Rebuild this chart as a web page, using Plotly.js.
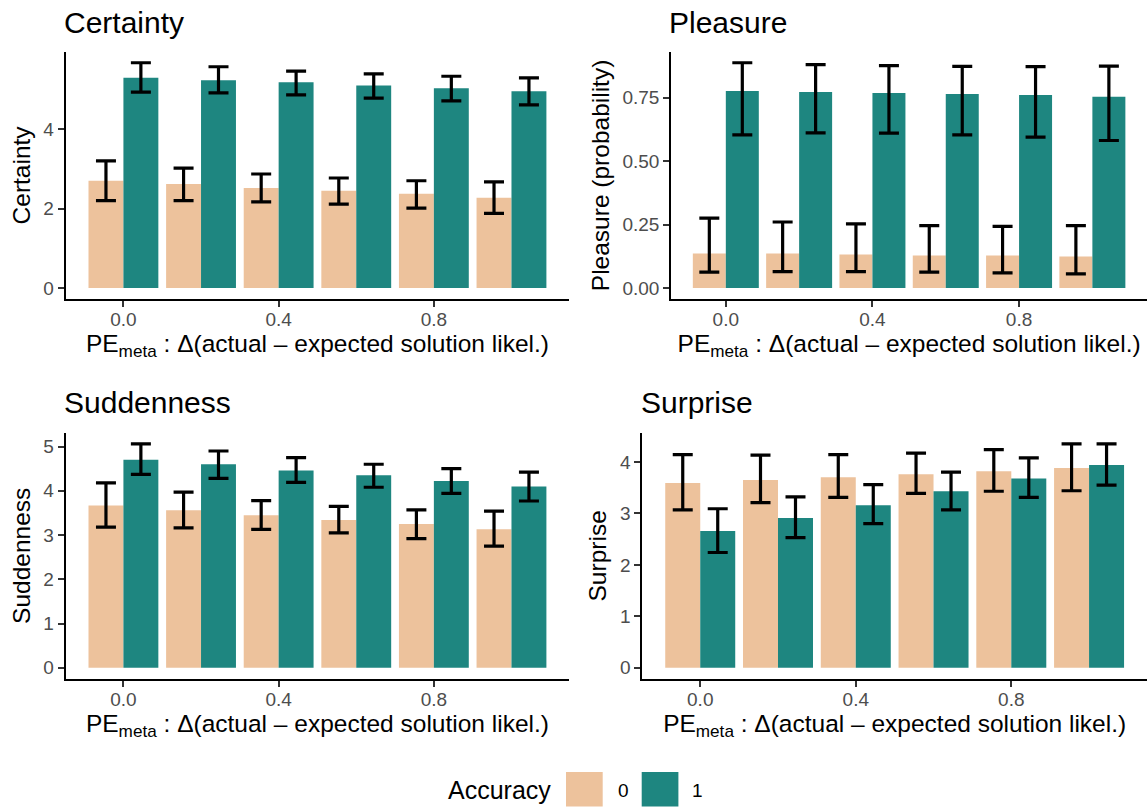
<!DOCTYPE html>
<html>
<head>
<meta charset="utf-8">
<script src="https://cdn.plot.ly/plotly-3.0.1.min.js"></script>
<style>html,body{margin:0;padding:0;background:#fff;}#chart{width:1148px;height:807px;}</style>
</head>
<body>
<div id="chart"></div>
<script>
// ---- data ----
const pe = [0, 0.2, 0.4, 0.6, 0.8, 1.0];
const accuracyLevels = ["0", "1"];
const xTickVals = [0, 0.4, 0.8];
const xTickText = ["0.0", "0.4", "0.8"];

const certainty0   = [2.70, 2.62, 2.52, 2.45, 2.37, 2.27];
const certainty0Hi = [3.20, 3.02, 2.87, 2.77, 2.70, 2.67];
const certainty0Lo = [2.20, 2.20, 2.17, 2.11, 2.01, 1.88];
const certainty1   = [5.29, 5.23, 5.18, 5.10, 5.03, 4.95];
const certainty1Hi = [5.67, 5.57, 5.46, 5.39, 5.33, 5.29];
const certainty1Lo = [4.93, 4.91, 4.86, 4.78, 4.71, 4.61];

const pleasure0   = [0.136, 0.136, 0.132, 0.128, 0.128, 0.124];
const pleasure0Hi = [0.275, 0.260, 0.253, 0.246, 0.243, 0.246];
const pleasure0Lo = [0.063, 0.065, 0.065, 0.063, 0.060, 0.056];
const pleasure1   = [0.776, 0.772, 0.768, 0.764, 0.760, 0.753];
const pleasure1Hi = [0.887, 0.880, 0.876, 0.873, 0.872, 0.874];
const pleasure1Lo = [0.603, 0.611, 0.610, 0.603, 0.594, 0.581];

const sudden0   = [3.67, 3.56, 3.45, 3.34, 3.25, 3.13];
const sudden0Hi = [4.18, 3.97, 3.78, 3.65, 3.57, 3.54];
const sudden0Lo = [3.18, 3.16, 3.13, 3.05, 2.92, 2.75];
const sudden1   = [4.70, 4.60, 4.46, 4.35, 4.22, 4.10];
const sudden1Hi = [5.06, 4.90, 4.75, 4.60, 4.50, 4.42];
const sudden1Lo = [4.37, 4.28, 4.19, 4.08, 3.94, 3.77];

const surprise0   = [3.59, 3.65, 3.70, 3.76, 3.82, 3.88];
const surprise0Hi = [4.14, 4.13, 4.14, 4.17, 4.24, 4.35];
const surprise0Lo = [3.07, 3.21, 3.31, 3.39, 3.43, 3.44];
const surprise1   = [2.66, 2.91, 3.16, 3.43, 3.68, 3.94];
const surprise1Hi = [3.09, 3.32, 3.56, 3.80, 4.08, 4.35];
const surprise1Lo = [2.24, 2.53, 2.80, 3.07, 3.31, 3.55];

const panelTitles = ["Certainty", "Pleasure", "Suddenness", "Surprise"];
const yTitles = ["Certainty", "Pleasure (probability)", "Suddenness", "Surprise"];
const yTickVals = [[0, 2, 4], [0, 0.25, 0.5, 0.75], [0, 1, 2, 3, 4, 5], [0, 1, 2, 3, 4]];
const yTickText = [["0", "2", "4"], ["0.00", "0.25", "0.50", "0.75"], ["0","1","2","3","4","5"], ["0","1","2","3","4"]];

// ---- styling ----
const W = 1148, H = 807;
const colors = ["#EDC29C", "#1E8680"];
const FONT = "Liberation Sans, Arial, Helvetica, sans-serif";
const px = v => v / W;
const py = v => 1 - v / H;

const panels = [
  {mean: [certainty0, certainty1], hi: [certainty0Hi, certainty1Hi], lo: [certainty0Lo, certainty1Lo],
   xd: [px(65.6), px(569.3)], yd: [py(299.3), py(51.5)], yr: [-0.2835, 5.9535], tx: 62, ty: 22},
  {mean: [pleasure0, pleasure1], hi: [pleasure0Hi, pleasure1Hi], lo: [pleasure0Lo, pleasure1Lo],
   xd: [px(671.2), px(1147)], yd: [py(299.3), py(51.5)], yr: [-0.04435, 0.93135], tx: 667, ty: 22},
  {mean: [sudden0, sudden1], hi: [sudden0Hi, sudden1Hi], lo: [sudden0Lo, sudden1Lo],
   xd: [px(65.6), px(569.3)], yd: [py(679), py(432.7)], yr: [-0.253, 5.313], tx: 62, ty: 402},
  {mean: [surprise0, surprise1], hi: [surprise0Hi, surprise1Hi], lo: [surprise0Lo, surprise1Lo],
   xd: [px(642.3), px(1147)], yd: [py(679), py(432.7)], yr: [-0.2175, 4.5675], tx: 639, ty: 402}
];

const traces = [];
const layout = {
  width: W, height: H,
  margin: {l: 0, r: 0, t: 0, b: 0},
  paper_bgcolor: "#fff", plot_bgcolor: "#fff",
  font: {family: FONT, color: "#000"},
  barmode: "group", bargap: 0.1, bargroupgap: 0,
  showlegend: false,
  annotations: [], shapes: []
};

panels.forEach((p, i) => {
  const n = i + 1;
  const xa = n === 1 ? "x" : "x" + n;
  const ya = n === 1 ? "y" : "y" + n;
  accuracyLevels.forEach((lvl, k) => {
    traces.push({
      type: "bar", x: pe, y: p.mean[k], name: lvl,
      xaxis: xa, yaxis: ya,
      marker: {color: colors[k], line: {width: 0}},
      error_y: {
        type: "data", symmetric: false,
        array: p.hi[k].map((h, j) => h - p.mean[k][j]),
        arrayminus: p.mean[k].map((m, j) => m - p.lo[k][j]),
        color: "#000", thickness: 3.2, width: 10
      },
      hoverinfo: "x+y"
    });
  });
  layout["xaxis" + (n === 1 ? "" : n)] = {
    domain: p.xd, anchor: ya, range: [-0.149, 1.149],
    tickvals: xTickVals, ticktext: xTickText,
    showline: true, linecolor: "#000", linewidth: 2,
    ticks: "outside", ticklen: 6, tickwidth: 2, tickcolor: "#333",
    ticklabelstandoff: -4,
    showgrid: false, zeroline: false,
    tickfont: {size: 19, color: "#4D4D4D", family: FONT},
    title: {text: "PE<sub>meta</sub> : Δ(actual – expected solution likel.)",
            font: {size: 24.5, color: "#000", family: FONT}, standoff: 6},
    fixedrange: true
  };
  layout["yaxis" + (n === 1 ? "" : n)] = {
    domain: p.yd, anchor: xa, range: p.yr,
    tickvals: yTickVals[i], ticktext: yTickText[i],
    showline: true, linecolor: "#000", linewidth: 2,
    ticks: "outside", ticklen: 6, tickwidth: 2, tickcolor: "#333",
    showgrid: false, zeroline: false,
    tickfont: {size: 19, color: "#4D4D4D", family: FONT},
    title: {text: yTitles[i], font: {size: 24.5, color: "#000", family: FONT}, standoff: 6},
    fixedrange: true
  };
  layout.annotations.push({
    text: panelTitles[i], xref: "paper", yref: "paper",
    x: px(p.tx), y: py(p.ty), xanchor: "left", yanchor: "middle",
    showarrow: false, font: {size: 30, color: "#000", family: FONT}
  });
});

// legend (drawn at the bottom, centred)
layout.annotations.push({text: "Accuracy", xref: "paper", yref: "paper", x: px(553), y: py(790),
  xanchor: "right", yanchor: "middle", showarrow: false, font: {size: 25, color: "#000", family: FONT}});
const keyX = [566, 641.7];
const keyLabelX = [623, 697.5];
accuracyLevels.forEach((lvl, k) => {
  layout.shapes.push({type: "rect", xref: "paper", yref: "paper",
    x0: px(keyX[k]), x1: px(keyX[k] + 36.7), y0: py(806.5), y1: py(772),
    fillcolor: colors[k], line: {width: 0}});
  layout.annotations.push({text: lvl, xref: "paper", yref: "paper", x: px(keyLabelX[k]), y: py(790),
    xanchor: "center", yanchor: "middle", showarrow: false, font: {size: 19, color: "#000", family: FONT}});
});

Plotly.newPlot("chart", traces, layout, {displayModeBar: false, staticPlot: true});
</script>
</body>
</html>
